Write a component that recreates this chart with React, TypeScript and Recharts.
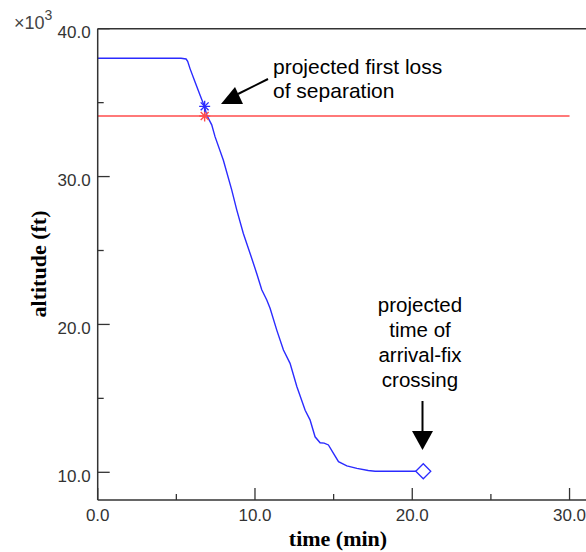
import { ComposedChart, Line, ReferenceLine, Scatter, XAxis, YAxis } from "recharts";

// descent profile, time in minutes, altitude in thousands of feet
const PROFILE_T = [
  0, 5.3, 5.62, 5.72, 5.87, 6.19, 6.51, 6.8, 6.93, 7.25, 7.46, 7.99, 8.52, 8.84, 9.26, 9.69,
  10.11, 10.43, 10.75, 10.96, 11.39, 11.81, 12.23, 12.66, 13.19, 13.5, 13.82, 14.14, 14.4,
  14.67, 14.99, 15.31, 15.84, 16.48, 17.2, 17.64, 20.7,
];
const PROFILE_ALT = [
  38.0, 38.0, 37.95, 37.8, 37.3, 36.4, 35.5, 34.7, 34.16, 33.5, 32.7, 31.1, 29.1, 27.75, 26.15,
  24.8, 23.45, 22.35, 21.65, 21.1, 19.6, 18.27, 17.37, 15.8, 14.2, 13.55, 12.4, 12.0, 11.97,
  11.85, 11.28, 10.72, 10.43, 10.27, 10.12, 10.07, 10.07,
];

const SEP_T = [0, 30];
const SEP_ALT = [34.1, 34.1];

const LOSS_T = [6.8];
const LOSS_BLUE_ALT = [34.75];
const LOSS_RED_ALT = [34.1];

const FIX_T = [20.7];
const FIX_ALT = [10.07];

const X_TICKS = [0, 5, 10, 15, 20, 25, 30];
const Y_TICKS = [10, 15, 20, 25, 30, 35, 40];

const profile = PROFILE_T.map((t, i) => ({ t, alt: PROFILE_ALT[i] }));
const separation = SEP_T.map((t, i) => ({ t, alt: SEP_ALT[i] }));
const lossBlue = LOSS_T.map((t, i) => ({ t, alt: LOSS_BLUE_ALT[i] }));
const lossRed = LOSS_T.map((t, i) => ({ t, alt: LOSS_RED_ALT[i] }));
const fix = FIX_T.map((t, i) => ({ t, alt: FIX_ALT[i] }));

const AXIS = "#333";
const BLUE = "#2b2bff";
const RED = "#ff4d4d";
const TICK_FONT = "'Liberation Sans', Arial, sans-serif";

const XTick = (props: any) => {
  const { x, y, payload } = props;
  const major = payload.value % 10 === 0;
  return (
    <g>
      <line x1={x} x2={x} y1={y} y2={y - (major ? 12 : 6)} stroke={AXIS} strokeWidth={1.3} />
      {major && (
        <text x={x} y={y + 21} textAnchor="middle" fontFamily={TICK_FONT} fontSize={17} fill={AXIS}>
          {payload.value.toFixed(1)}
        </text>
      )}
    </g>
  );
};

const YTick = (props: any) => {
  const { x, y, payload } = props;
  const major = payload.value % 10 === 0;
  return (
    <g>
      <line x1={x} x2={x + (major ? 12 : 6)} y1={y} y2={y} stroke={AXIS} strokeWidth={1.3} />
      {major && (
        <text x={x - 7} y={y + 9.5} textAnchor="end" fontFamily={TICK_FONT} fontSize={17} fill={AXIS}>
          {payload.value.toFixed(1)}
        </text>
      )}
    </g>
  );
};

const starShape = (color: string) => (props: any) => {
  const { cx, cy } = props;
  const r = 5.5;
  const d = r * 0.72;
  return (
    <g stroke={color} strokeWidth={1.4}>
      <line x1={cx - r} x2={cx + r} y1={cy} y2={cy} />
      <line x1={cx} x2={cx} y1={cy - r} y2={cy + r} />
      <line x1={cx - d} x2={cx + d} y1={cy - d} y2={cy + d} />
      <line x1={cx - d} x2={cx + d} y1={cy + d} y2={cy - d} />
    </g>
  );
};

const diamondShape = (props: any) => {
  const { cx, cy } = props;
  const r = 7.5;
  return (
    <path
      d={`M${cx - r},${cy} L${cx},${cy - r} L${cx + r},${cy} L${cx},${cy + r} Z`}
      fill="#fff"
      stroke={BLUE}
      strokeWidth={1.3}
    />
  );
};

export default function App() {
  return (
    <div style={{ position: "absolute", left: 0, top: 0, width: 586, height: 552, overflow: "hidden", background: "#fff" }}>
      <ComposedChart
        width={601}
        height={552}
        margin={{ top: 28.7, right: 0, left: 0, bottom: 0 }}
      >
        <XAxis
          dataKey="t"
          type="number"
          domain={[0, 32]}
          ticks={X_TICKS}
          interval={0}
          allowDataOverflow
          height={52}
          tickSize={0}
          tickMargin={0}
          tickLine={false}
          tick={XTick}
          stroke={AXIS}
          strokeWidth={1.5}
        />
        <YAxis
          dataKey="alt"
          type="number"
          domain={[8.127, 40]}
          ticks={Y_TICKS}
          interval={0}
          allowDataOverflow
          width={97.7}
          tickSize={0}
          tickMargin={0}
          tickLine={false}
          tick={YTick}
          stroke={AXIS}
          strokeWidth={1.5}
        />
        <ReferenceLine y={40} stroke={AXIS} strokeWidth={1.5} />
        <Line
          data={separation}
          dataKey="alt"
          type="linear"
          stroke={RED}
          strokeWidth={1.5}
          dot={false}
          isAnimationActive={false}
        />
        <Line
          data={profile}
          dataKey="alt"
          type="linear"
          stroke={BLUE}
          strokeWidth={1.4}
          dot={false}
          isAnimationActive={false}
        />
        <Scatter data={lossRed} dataKey="alt" shape={starShape(RED)} isAnimationActive={false} />
        <Scatter data={lossBlue} dataKey="alt" shape={starShape(BLUE)} isAnimationActive={false} />
        <Scatter data={fix} dataKey="alt" shape={diamondShape} isAnimationActive={false} />
      </ComposedChart>

      <svg
        width={586}
        height={552}
        style={{ position: "absolute", left: 0, top: 0, pointerEvents: "none" }}
      >
        <text x={14} y={29} fontFamily={TICK_FONT} fontSize={18} fill="#444">
          ×10
          <tspan dy={-9} fontSize={14}>3</tspan>
        </text>

        <text
          x={46}
          y={264}
          transform="rotate(-90, 46, 264)"
          textAnchor="middle"
          fontFamily="'Liberation Serif', 'Times New Roman', serif"
          fontWeight="bold"
          fontSize={22}
          fill="#000"
        >
          altitude (ft)
        </text>
        <text
          x={338}
          y={546}
          textAnchor="middle"
          fontFamily="'Liberation Serif', 'Times New Roman', serif"
          fontWeight="bold"
          fontSize={22}
          fill="#000"
        >
          time (min)
        </text>

        {/* first loss of separation annotation */}
        <line x1={268} y1={79} x2={238} y2={94} stroke="#000" strokeWidth={2} />
        <polygon points="221,104 235,87 243,104" fill="#000" />
        <g fontFamily={TICK_FONT} fontSize={21} fill="#000">
          <text x={273} y={74}>projected first loss</text>
          <text x={273} y={98}>of separation</text>
        </g>

        {/* arrival fix annotation */}
        <g fontFamily={TICK_FONT} fontSize={20.5} fill="#000" textAnchor="middle">
          <text x={420} y={312}>projected</text>
          <text x={420} y={337}>time of</text>
          <text x={420} y={362}>arrival-fix</text>
          <text x={420} y={387}>crossing</text>
        </g>
        <line x1={422.5} y1={401} x2={422.5} y2={433} stroke="#000" strokeWidth={2} />
        <polygon points="412,431 433,431 422.5,450" fill="#000" />
      </svg>
    </div>
  );
}
